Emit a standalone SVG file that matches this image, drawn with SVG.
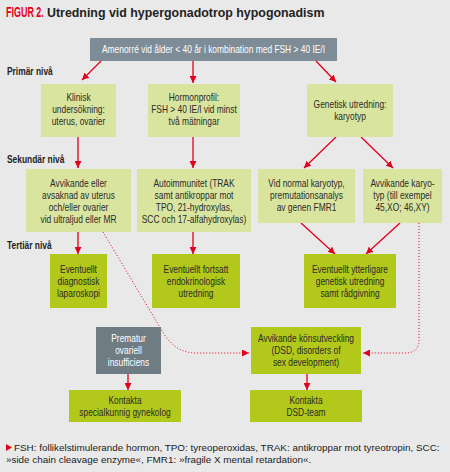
<svg xmlns="http://www.w3.org/2000/svg" width="450" height="472" viewBox="0 0 450 472">
<defs>
<style>
.bg{fill:#e9e9e9}
.top{fill:#7d8c96}
.lt{fill:#d9e59f}
.dk{fill:#b2c81a}
.gr{fill:#6f7c84}
.t{font-family:"Liberation Sans",Arial,sans-serif;font-size:10.5px;fill:#2b2b2b;text-anchor:middle}
.w{fill:#ffffff}
.lvl{font-family:"Liberation Sans",Arial,sans-serif;font-size:10.5px;font-weight:bold;fill:#222}
.ln{stroke:#e2001a;stroke-width:1.3;fill:none;marker-end:url(#ah)}
.dot{stroke:#e2001a;stroke-width:1;fill:none;stroke-dasharray:1 2;marker-end:url(#ah)}
.foot{font-family:"Liberation Sans",Arial,sans-serif;font-size:9.9px;fill:#222}
</style>
<marker id="ah" viewBox="0 0 10 10" refX="10" refY="5" markerWidth="7" markerHeight="7" markerUnits="userSpaceOnUse" orient="auto">
<path d="M0,0 L10,5 L0,10 z" fill="#e2001a"/>
</marker>
</defs>
<rect class="bg" x="0" y="0" width="450" height="472"/>
<text transform="translate(6,17) scale(0.64,1)" x="0" y="0" font-family="Liberation Sans,Arial,sans-serif" font-size="14" font-weight="bold" fill="#e2001a">FIGUR 2.</text>
<text x="47" y="17" font-family="Liberation Sans,Arial,sans-serif" font-size="12.4" font-weight="bold" fill="#222">Utredning vid hypergonadotrop hypogonadism</text>

<text class="lvl" transform="translate(7,75) scale(0.8,1)">Primär nivå</text>
<text class="lvl" transform="translate(7,163) scale(0.8,1)">Sekundär nivå</text>
<text class="lvl" transform="translate(7,249) scale(0.8,1)">Tertiär nivå</text>

<g id="connectors">
<line class="ln" x1="101" y1="61" x2="82" y2="80"/>
<line class="ln" x1="193" y1="61" x2="193" y2="83"/>
<line class="ln" x1="316" y1="61" x2="336" y2="82"/>
<line class="ln" x1="78" y1="137" x2="78" y2="168"/>
<line class="ln" x1="193" y1="137" x2="193" y2="168"/>
<line class="ln" x1="336" y1="137" x2="304" y2="168"/>
<line class="ln" x1="361" y1="137" x2="393" y2="168"/>
<line class="ln" x1="78" y1="232" x2="78" y2="254"/>
<line class="ln" x1="193" y1="232" x2="193" y2="254"/>
<line class="ln" x1="301" y1="223" x2="335" y2="254"/>
<line class="ln" x1="400" y1="223" x2="366" y2="254"/>
<line class="ln" x1="128" y1="374" x2="128" y2="390"/>
<line class="ln" x1="307" y1="374" x2="307" y2="390"/>
<path class="dot" d="M103,232 L164,334 Q176,353 196,353 L249,353"/>
<path class="dot" d="M419,223 L419,340 Q419,353 405,353 L363,353"/>
</g>

<g id="n-top"><rect class="top" x="90" y="38" width="247" height="23"/>
<text class="t w" transform="translate(213.5,53) scale(0.8,1)">Amenorré vid ålder &lt; 40 år i kombination med FSH &gt; 40 IE/I</text></g>

<g id="n-klinisk"><rect class="lt" x="41" y="84" width="75" height="53"/>
<text class="t" transform="translate(78.5,101) scale(0.8,1)">Klinisk</text><text class="t" transform="translate(78.5,113) scale(0.8,1)">undersökning:</text><text class="t" transform="translate(78.5,125) scale(0.8,1)">uterus, ovarier</text></g>

<g id="n-hormon"><rect class="lt" x="148" y="84" width="92" height="53"/>
<text class="t" transform="translate(194,101) scale(0.8,1)">Hormonprofil:</text><text class="t" transform="translate(194,113) scale(0.8,1)">FSH &gt; 40 IE/l vid minst</text><text class="t" transform="translate(194,125) scale(0.8,1)">två mätningar</text></g>

<g id="n-genetisk"><rect class="lt" x="307" y="84" width="86" height="53"/>
<text class="t" transform="translate(350,108) scale(0.8,1)">Genetisk utredning:</text><text class="t" transform="translate(350,120) scale(0.8,1)">karyotyp</text></g>

<g id="n-avvikande"><rect class="lt" x="26" y="169" width="105" height="63"/>
<text class="t" transform="translate(78.5,186.5) scale(0.8,1)">Avvikande eller</text><text class="t" transform="translate(78.5,198.5) scale(0.8,1)">avsaknad av uterus</text><text class="t" transform="translate(78.5,210.5) scale(0.8,1)">och/eller ovarier</text><text class="t" transform="translate(78.5,222.5) scale(0.8,1)">vid ultraljud eller MR</text></g>

<g id="n-autoimm"><rect class="lt" x="137" y="169" width="114" height="63"/>
<text class="t" transform="translate(194,186.5) scale(0.8,1)">Autoimmunitet (TRAK</text><text class="t" transform="translate(194,198.5) scale(0.8,1)">samt antikroppar mot</text><text class="t" transform="translate(194,210.5) scale(0.8,1)">TPO, 21-hydroxylas,</text><text class="t" transform="translate(194,222.5) scale(0.8,1)">SCC och 17-alfahydroxylas)</text></g>

<g id="n-normal"><rect class="lt" x="258" y="169" width="97" height="54"/>
<text class="t" transform="translate(306.5,186.5) scale(0.8,1)">Vid normal karyotyp,</text><text class="t" transform="translate(306.5,198.5) scale(0.8,1)">premutationsanalys</text><text class="t" transform="translate(306.5,210.5) scale(0.8,1)">av genen FMR1</text></g>

<g id="n-karyo"><rect class="lt" x="363" y="169" width="79" height="54"/>
<text class="t" transform="translate(402.5,186.5) scale(0.8,1)">Avvikande karyo-</text><text class="t" transform="translate(402.5,198.5) scale(0.8,1)">typ (till exempel</text><text class="t" transform="translate(402.5,210.5) scale(0.8,1)">45,XO; 46,XY)</text></g>

<g id="n-laparo"><rect class="dk" x="50" y="254" width="57" height="54"/>
<text class="t" transform="translate(78.5,272.5) scale(0.8,1)">Eventuellt</text><text class="t" transform="translate(78.5,284.5) scale(0.8,1)">diagnostisk</text><text class="t" transform="translate(78.5,296.5) scale(0.8,1)">laparoskopi</text></g>

<g id="n-endo"><rect class="dk" x="152" y="254" width="88" height="54"/>
<text class="t" transform="translate(196,272.5) scale(0.8,1)">Eventuellt fortsatt</text><text class="t" transform="translate(196,284.5) scale(0.8,1)">endokrinologisk</text><text class="t" transform="translate(196,296.5) scale(0.8,1)">utredning</text></g>

<g id="n-genutr"><rect class="dk" x="304" y="254" width="92" height="54"/>
<text class="t" transform="translate(350,272.5) scale(0.8,1)">Eventuellt ytterligare</text><text class="t" transform="translate(350,284.5) scale(0.8,1)">genetisk utredning</text><text class="t" transform="translate(350,296.5) scale(0.8,1)">samt rådgivning</text></g>

<g id="n-prematur"><rect class="gr" x="96" y="327" width="65" height="47"/>
<text class="t w" transform="translate(128.5,341.5) scale(0.8,1)">Prematur</text><text class="t w" transform="translate(128.5,353.5) scale(0.8,1)">ovariell</text><text class="t w" transform="translate(128.5,365.5) scale(0.8,1)">insufficiens</text></g>

<g id="n-dsd"><rect class="dk" x="251" y="327" width="110" height="47"/>
<text class="t" transform="translate(306,341.5) scale(0.8,1)">Avvikande könsutveckling</text><text class="t" transform="translate(306,353.5) scale(0.8,1)">(DSD, disorders of</text><text class="t" transform="translate(306,365.5) scale(0.8,1)">sex development)</text></g>

<g id="n-gyn"><rect class="dk" x="69" y="390" width="112" height="32"/>
<text class="t" transform="translate(125,403.5) scale(0.8,1)">Kontakta</text><text class="t" transform="translate(125,415.5) scale(0.8,1)">specialkunnig gynekolog</text></g>

<g id="n-dsdteam"><rect class="dk" x="250" y="390" width="112" height="32"/>
<text class="t" transform="translate(306,403.5) scale(0.8,1)">Kontakta</text><text class="t" transform="translate(306,415.5) scale(0.8,1)">DSD-team</text></g>

<path d="M6,444 L12,447.5 L6,451 z" fill="#e2001a"/>
<text class="foot" x="14" y="451">FSH: follikelstimulerande hormon, TPO: tyreoperoxidas, TRAK: antikroppar mot tyreotropin, SCC:</text>
<text class="foot" x="6" y="463">»side chain cleavage enzyme«, FMR1: »fragile X mental retardation«.</text>
</svg>
